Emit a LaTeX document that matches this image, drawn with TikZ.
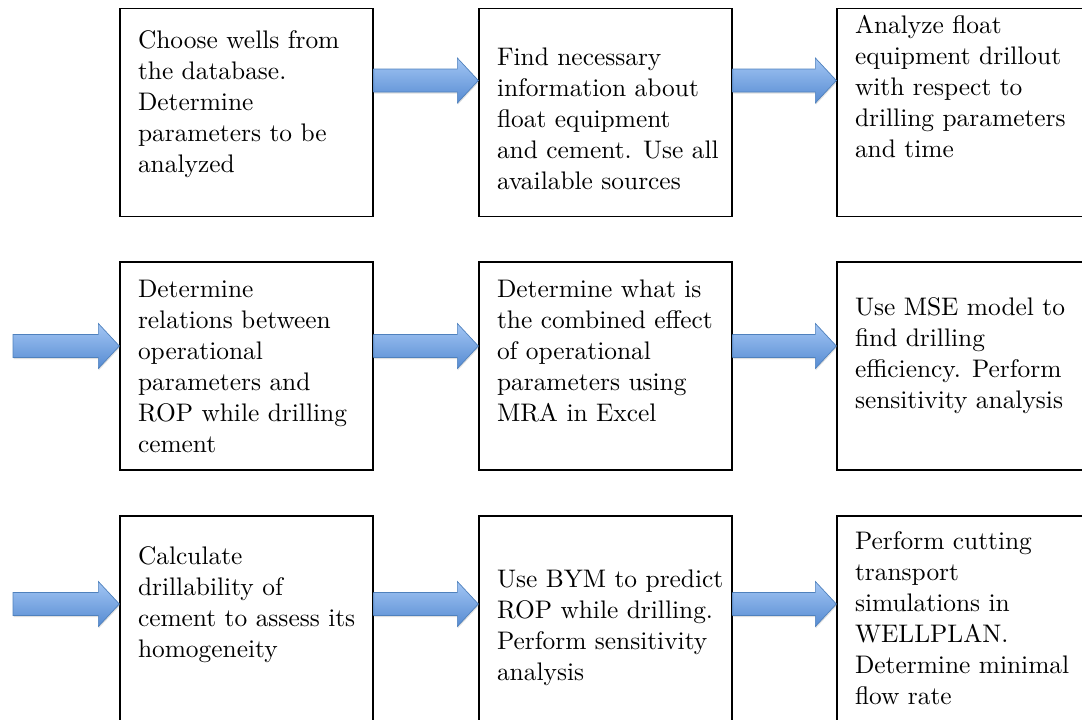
\documentclass[tikz,border=0pt]{standalone}
\usepackage{fontspec}
\usetikzlibrary{calc,shadows}
\definecolor{arrtop}{RGB}{163,198,244}
\definecolor{arrbot}{RGB}{86,139,210}
\definecolor{arrline}{RGB}{79,129,189}
\tikzset{
  box/.style={draw=black, line width=1.3pt, fill=white, minimum width=253pt, minimum height=208pt, inner sep=0pt},
  txt/.style={anchor=base west, align=left, inner sep=0pt, scale=2.54, transform shape,
              font=\fontsize{10}{12.2}\selectfont},
  arr/.style={draw=arrline, line width=0.7pt, top color=arrtop, bottom color=arrbot,
              drop shadow={shadow xshift=0.6pt, shadow yshift=-1.6pt, opacity=0.25}}
}
\newcommand{\blockarrow}[2]{%
  \path[arr] ($#1+(0,-11.5)$) -- ($#2+(-21,-11.5)$) -- ($#2+(-21,-22.5)$) -- #2
    -- ($#2+(-21,22.5)$) -- ($#2+(-21,11.5)$) -- ($#1+(0,11.5)$) -- cycle;}
\begin{document}
\begin{tikzpicture}[x=1pt,y=-1pt]
\useasboundingbox (0,0) rectangle (1082,720);
% boxes
\node[box] (b11) at (246.5,112.6) {};
\node[box] (b12) at (605.5,112.6) {};
\node[box] (b13) at (963.5,112.6) {};
\node[box] (b21) at (246.5,366) {};
\node[box] (b22) at (605.5,366) {};
\node[box] (b23) at (963.5,366) {};
\node[box] (b31) at (246.5,620) {};
\node[box] (b32) at (605.5,620) {};
\node[box] (b33) at (963.5,620) {};
% texts (anchor = baseline of the last line)
\node[txt] (t11) at (137.5,172) {Choose wells from\\the database.\\Determine\\parameters to be\\analyzed};
\node[txt] (t12) at (496.5,189) {Find necessary\\information about\\float equipment\\and cement. Use all\\available sources};
\node[txt] (t13) at (854.5,157) {Analyze float\\equipment drillout\\with respect to\\drilling parameters\\and time};
\node[txt] (t21) at (137.5,452) {Determine\\relations between\\operational\\parameters and\\ROP while drilling\\cement};
\node[txt] (t22) at (496.5,421) {Determine what is\\the combined effect\\of operational\\parameters using\\MRA in Excel};
\node[txt] (t23) at (854.5,408) {Use MSE model to\\find drilling\\efficiency. Perform\\sensitivity analysis};
\node[txt] (t31) at (137.5,657) {Calculate\\drillability of\\cement to assess its\\homogeneity};
\node[txt] (t32) at (496.5,680) {Use BYM to predict\\ROP while drilling.\\Perform sensitivity\\analysis};
\node[txt] (t33) at (854.5,704) {Perform cutting\\transport\\simulations in\\WELLPLAN.\\Determine minimal\\flow rate};
% arrow rows
\coordinate (r1) at (0,80.5);
\coordinate (r2) at (0,346);
\coordinate (r3) at (0,604);
\coordinate (s2) at (13,346);
\coordinate (s3) at (13,604);
\blockarrow{(b11.east|-r1)}{(b12.west|-r1)}
\blockarrow{(b12.east|-r1)}{(b13.west|-r1)}
\blockarrow{(s2)}{(b21.west|-r2)}
\blockarrow{(b21.east|-r2)}{(b22.west|-r2)}
\blockarrow{(b22.east|-r2)}{(b23.west|-r2)}
\blockarrow{(s3)}{(b31.west|-r3)}
\blockarrow{(b31.east|-r3)}{(b32.west|-r3)}
\blockarrow{(b32.east|-r3)}{(b33.west|-r3)}
\end{tikzpicture}
\end{document}
